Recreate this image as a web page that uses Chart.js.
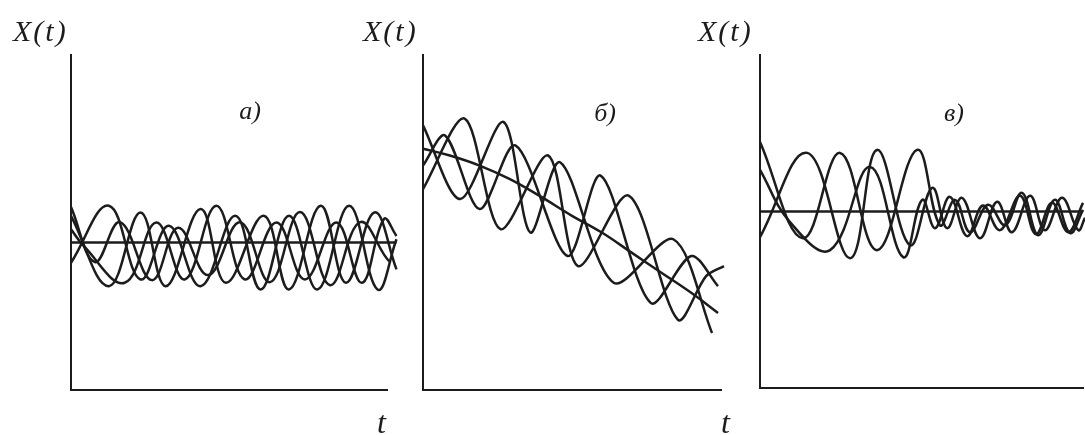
<!DOCTYPE html>
<html>
<head>
<meta charset="utf-8">
<script src="https://cdn.jsdelivr.net/npm/chart.js@4.4.1/dist/chart.umd.min.js"></script>
<style>
    html, body { margin: 0; padding: 0; background: #fff; }
    #wrap { position: relative; width: 1085px; height: 436px; overflow: hidden; }
    canvas { position: absolute; top: 0; }
</style>
</head>
<body>
<div id="wrap">
    <canvas id="chartA" width="400" height="436" style="left:0px"></canvas>
    <canvas id="chartB" width="395" height="436" style="left:345px"></canvas>
    <canvas id="chartC" width="395" height="436" style="left:690px"></canvas>
</div>
<script>
// Panel a) - stationary process: realisations around a constant mean
const tMeanA = [0, 103];
const meanA = [44, 44];
const tA1 = [0, 12, 22, 30, 41, 49, 61, 69, 79, 87, 96, 103];
const xA1 = [52, 31, 53, 31, 54, 32, 52, 30, 55, 32, 53, 36];
const tA2 = [0, 12, 22, 31, 41, 52, 60, 69, 78, 88, 97, 103];
const xA2 = [38, 55, 33, 49, 31, 52, 30, 52, 30, 55, 30, 45];
const tA3 = [0, 4, 17, 27, 36, 46, 55, 65, 74, 84, 92, 99, 103];
const xA3 = [48, 43, 32, 50, 33, 55, 33, 50, 33, 50, 32, 51, 46];
const tA4 = [0, 7.6, 15.5, 25.6, 33.9, 43.4, 53.5, 63, 72.5, 82, 91.5, 101, 103];
const xA4 = [54.6, 38.2, 50.1, 32.8, 48.4, 34.3, 50.1, 32.2, 53.1, 31.3, 50.1, 38.2, 41.8];

// Panel б) - mean drifts down with time
const tMeanB = [0, 9, 19, 29, 39, 50, 60, 70, 80, 90, 99];
const meanB = [72, 70, 67, 63, 58, 52, 47, 41, 35, 29, 23];
const tB1 = [0, 12.5, 27, 36, 46, 64, 84, 97];
const xB1 = [79, 57, 80, 47, 68, 32, 45, 17];
const tB2 = [0, 14, 26, 42, 52, 69, 85.5, 95, 101];
const xB2 = [60, 81, 48, 70, 37, 58, 21, 34, 37];
const tB3 = [0, 7.4, 19, 31, 48.5, 59.6, 76.4, 90, 99];
const xB3 = [67, 76, 54, 73, 40, 64, 26, 40, 31];

// Panel в) - constant mean, spread shrinks with time
const tMeanC = [0, 100];
const meanC = [53, 53];
const tC1 = [0, 14.6, 27.9, 36.2, 46.4, 53.3, 57.9, 62.5, 68.1, 73.4, 78, 83.6, 88.2, 93.5, 98.5, 100.6];
const xC1 = [45.3, 70.6, 39, 71.5, 42.9, 60.1, 48, 57.1, 45, 55.9, 46.8, 57.7, 47.4, 57.1, 47.4, 51.1];
const tC2 = [0, 13.3, 24.8, 36.2, 48.6, 55.7, 60.4, 65, 70.6, 75.9, 81.1, 86.1, 91.3, 96, 100];
const xC2 = [73.9, 45, 70.6, 41.4, 71.5, 48.9, 56.5, 46.8, 55, 48.9, 58.6, 45.9, 56.5, 46.5, 53.5];
const tC3 = [0, 9.3, 21.7, 34.1, 44.3, 50.2, 54.2, 58.8, 64.1, 69, 74.3, 80.5, 85.4, 90.4, 95.4, 100];
const xC3 = [65.5, 49.8, 41.4, 66.4, 39.3, 56.5, 48, 57.4, 45.6, 54.8, 47.4, 57.7, 46.2, 55.6, 46.8, 55.6];

const INK = '#1c1c1c';

function points(ts, xs) {
    return ts.map((t, i) => ({ x: t, y: xs[i] }));
}

function line(ts, xs, tension) {
    return {
        data: points(ts, xs),
        borderColor: INK,
        borderWidth: 2.5,
        pointRadius: 0,
        fill: false,
        tension: tension,
        clip: false
    };
}

// draws the hand-set captions: X(t), t, а) ...
const panelText = {
    id: 'panelText',
    afterDraw(chart, args, opts) {
        const ctx = chart.ctx;
        ctx.save();
        ctx.fillStyle = INK;
        ctx.textBaseline = 'alphabetic';
        (opts.items || []).forEach(item => {
            ctx.font = item.font;
            ctx.textAlign = item.align || 'left';
            ctx.letterSpacing = item.spacing || '0px';
            ctx.fillText(item.text, item.x, item.y);
        });
        ctx.restore();
    }
};

function axisOpts() {
    return {
        type: 'linear',
        min: 0,
        max: 100,
        ticks: { display: false },
        grid: { display: false, drawTicks: false },
        border: { display: true, color: INK, width: 2 }
    };
}

function makeChart(id, datasets, padding, items) {
    return new Chart(document.getElementById(id), {
        type: 'line',
        data: { datasets: datasets },
        options: {
            responsive: false,
            animation: false,
            devicePixelRatio: 1,
            layout: { padding: padding },
            scales: { x: axisOpts(), y: axisOpts() },
            plugins: {
                legend: { display: false },
                tooltip: { enabled: false },
                panelText: { items: items }
            }
        },
        plugins: [panelText]
    });
}

const LABEL = 'italic 30px "Liberation Serif", "Times New Roman", serif';
const TAG = 'italic 26px "Liberation Serif", "Times New Roman", serif';
const TFONT = 'italic 32px "Liberation Serif", "Times New Roman", serif';

makeChart('chartA', [
    line(tMeanA, meanA, 0),
    line(tA1, xA1, 0.4),
    line(tA2, xA2, 0.4),
    line(tA3, xA3, 0.4),
    line(tA4, xA4, 0.4)
], { left: 71, top: 55, right: 13, bottom: 46 }, [
    { text: 'X(t)', x: 13, y: 41, font: LABEL, spacing: '2px' },
    { text: 'а)', x: 250, y: 119, font: TAG, align: 'center' },
    { text: 't', x: 377, y: 433, font: TFONT }
]);

makeChart('chartB', [
    line(tMeanB, meanB, 0.4),
    line(tB1, xB1, 0.3),
    line(tB2, xB2, 0.3),
    line(tB3, xB3, 0.3)
], { left: 78, top: 55, right: 19, bottom: 46 }, [
    { text: 'X(t)', x: 18, y: 41, font: LABEL, spacing: '2px' },
    { text: 'б)', x: 260, y: 121, font: TAG, align: 'center' },
    { text: 't', x: 376, y: 433, font: TFONT }
]);

makeChart('chartC', [
    line(tMeanC, meanC, 0),
    line(tC1, xC1, 0.4),
    line(tC2, xC2, 0.4),
    line(tC3, xC3, 0.4)
], { left: 70, top: 55, right: 2, bottom: 48 }, [
    { text: 'X(t)', x: 8, y: 41, font: LABEL, spacing: '2px' },
    { text: 'в)', x: 264, y: 121, font: TAG, align: 'center' }
]);
</script>
</body>
</html>
